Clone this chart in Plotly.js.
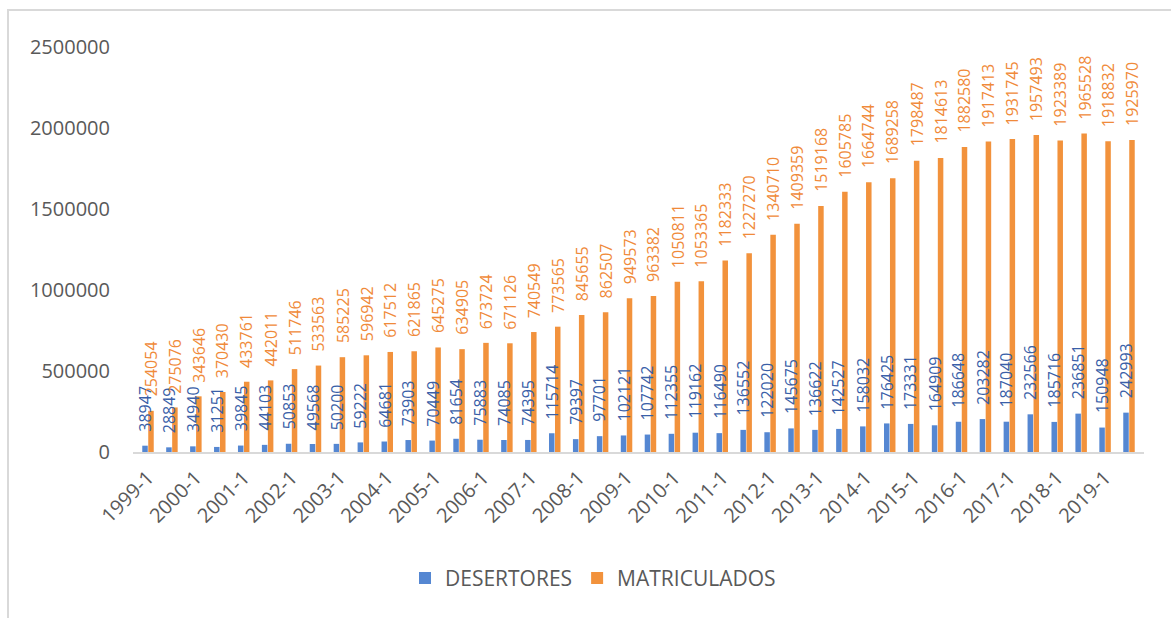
<!DOCTYPE html>
<html>
<head>
<meta charset="utf-8">
<script src="https://cdn.plot.ly/plotly-3.0.1.min.js"></script>
<style>
html,body{margin:0;padding:0;background:#fff;}
#frame{position:absolute;left:7px;top:9px;width:1200px;height:700px;border-left:2px solid #d9d9d9;border-top:2px solid #d9d9d9;}
#chart{position:absolute;left:0;top:0;width:1171px;height:618px;}
</style>
</head>
<body>
<div id="frame"></div>
<div id="chart"></div>
<script>
const years = [1999,2000,2001,2002,2003,2004,2005,2006,2007,2008,2009,2010,2011,2012,2013,2014,2015,2016,2017,2018,2019];
const categories = [];
years.forEach(y => { categories.push(y + "-1"); categories.push(y + "-2"); });
const tickLabels = years.map(y => y + "-1");

const desertores = [38947,28849,34940,31251,39845,44103,50853,49568,50200,59222,64681,73903,70449,81654,75883,74085,74395,115714,79397,97701,102121,107742,112355,119162,116490,136552,122020,145675,136622,142527,158032,176425,173331,164909,186648,203282,187040,232566,185716,236851,150948,242993];
const matriculados = [254054,275076,343646,370430,433761,442011,511746,533563,585225,596942,617512,621865,645275,634905,673724,671126,740549,773565,845655,862507,949573,963382,1050811,1053365,1182333,1227270,1340710,1409359,1519168,1605785,1664744,1689258,1798487,1814613,1882580,1917413,1931745,1957493,1923389,1965528,1918832,1925970];

const FONT = "Open Sans, Liberation Sans, sans-serif";
const BLUE_TEXT = "#3A5FA8", ORANGE_TEXT = "#F08A3A";

const traces = [
  {
    type: "bar", name: "DESERTORES", x: categories, y: desertores,
    marker: {color: "#5587D2"}, hoverinfo: "x+y"
  },
  {
    type: "bar", name: "MATRICULADOS", x: categories, y: matriculados,
    marker: {color: "#F2923C"}, hoverinfo: "x+y"
  }
];

function labels(values, color, xshift) {
  return values.map((v, i) => ({
    x: categories[i], y: v, xref: "x", yref: "y",
    text: String(v), showarrow: false, textangle: -90,
    xanchor: "center", yanchor: "bottom", yshift: 13, xshift: xshift,
    font: {family: FONT, size: 16, color: color}, borderpad: 0
  }));
}

const layout = {
  width: 1171, height: 618,
  margin: {l: 133, r: 27, t: 47, b: 166},
  paper_bgcolor: "rgba(0,0,0,0)", plot_bgcolor: "rgba(0,0,0,0)",
  font: {family: FONT, color: "#595959"},
  barmode: "group", bargap: 0.5, bargroupgap: 0.08,
  showlegend: true,
  legend: {orientation: "h", x: 0.455, xanchor: "center", y: -0.312, yanchor: "middle",
           font: {family: FONT, size: 21, color: "#595959"}, itemwidth: 30},
  annotations: labels(desertores, BLUE_TEXT, -3).concat(labels(matriculados, ORANGE_TEXT, 3)),
  xaxis: {
    type: "category", tickmode: "array", tickvals: tickLabels, ticktext: tickLabels,
    tickangle: -45, tickfont: {family: FONT, size: 20, color: "#595959"},
    showline: true, linecolor: "#d9d9d9", linewidth: 2, showgrid: false, ticks: "",
    ticklabelstandoff: 4, zeroline: false
  },
  yaxis: {
    range: [0, 2500000], tickmode: "array",
    tickvals: [0, 500000, 1000000, 1500000, 2000000, 2500000],
    ticktext: ["0", "500000", "1000000", "1500000", "2000000", "2500000"],
    tickfont: {family: FONT, size: 20, color: "#595959"},
    showgrid: false, zeroline: false, showline: false, ticks: "",
    ticklabelstandoff: 22
  }
};

Plotly.newPlot("chart", traces, layout, {displayModeBar: false, staticPlot: true});
</script>
</body>
</html>
